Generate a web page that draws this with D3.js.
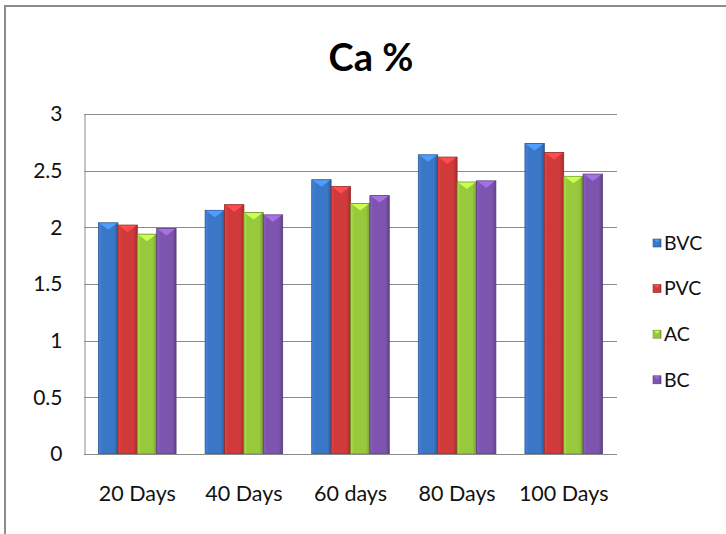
<!DOCTYPE html>
<html>
<head>
<meta charset="utf-8">
<script src="https://cdn.jsdelivr.net/npm/d3@7"></script>
<style>
  body { margin: 0; background: #fff; }
  text { font-family: Lato, "Open Sans", sans-serif; }
</style>
</head>
<body>
<svg id="chart" width="726" height="534"></svg>
<script>
// chart values
var categories = ["20 Days", "40 Days", "60 days", "80 Days", "100 Days"];
var seriesNames = ["BVC", "PVC", "AC", "BC"];
var BVC = [2.04, 2.15, 2.42, 2.64, 2.74];
var PVC = [2.02, 2.20, 2.36, 2.62, 2.66];
var AC  = [1.94, 2.13, 2.21, 2.40, 2.45];
var BC  = [1.99, 2.11, 2.28, 2.41, 2.47];
var yTicks = [0, 0.5, 1, 1.5, 2, 2.5, 3];
var colors = ["#3a77c6", "#d03a3a", "#98c83c", "#7d55ae"];

var values = [BVC, PVC, AC, BC];

var svg = d3.select("#chart");

// outer frame (runs off right and bottom edge like the original)
svg.append("rect")
    .attr("x", 5).attr("y", 6)
    .attr("width", 740).attr("height", 560)
    .attr("fill", "none")
    .attr("stroke", "#8c8c8c")
    .attr("stroke-width", 2);

var plot = {left: 84, right: 617, top: 114, bottom: 454};

var x0 = d3.scaleBand()
    .domain(categories)
    .range([plot.left, plot.right])
    .paddingInner(1.5 / 5.5)
    .paddingOuter(0.75 / 5.5);

var x1 = d3.scaleBand()
    .domain(seriesNames)
    .range([0, x0.bandwidth()]);

var y = d3.scaleLinear()
    .domain([0, 3])
    .range([plot.bottom, plot.top]);

// gradients for the bevelled bars
var defs = svg.append("defs");
seriesNames.forEach(function (name, i) {
    var c = d3.color(colors[i]);
    var g = defs.append("linearGradient")
        .attr("id", "grad" + i)
        .attr("x1", "0%").attr("x2", "100%")
        .attr("y1", "0%").attr("y2", "0%");
    g.append("stop").attr("offset", "0%").attr("stop-color", c.brighter(0.35));
    g.append("stop").attr("offset", "18%").attr("stop-color", c);
    g.append("stop").attr("offset", "80%").attr("stop-color", c);
    g.append("stop").attr("offset", "100%").attr("stop-color", c.darker(0.7));
});

// gridlines
svg.append("g")
    .selectAll("line")
    .data(yTicks.filter(function (d) { return d > 0; }))
    .enter()
    .append("line")
    .attr("x1", plot.left).attr("x2", plot.right)
    .attr("y1", function (d) { return Math.round(y(d)) + 0.5; })
    .attr("y2", function (d) { return Math.round(y(d)) + 0.5; })
    .attr("stroke", "#8a8a8a")
    .attr("stroke-width", 1);

// y axis
var yAxis = svg.append("g")
    .attr("transform", "translate(" + (plot.left + 0.5) + ",0)")
    .call(d3.axisLeft(y).tickValues(yTicks).tickSize(0).tickPadding(22)
        .tickFormat(function (d) { return String(d); }));
yAxis.select(".domain").attr("stroke", "#8a8a8a");
yAxis.selectAll("text")
    .attr("font-size", 21)
    .attr("fill", "#111")
    .attr("font-family", "Lato, sans-serif");

// bars
var groups = svg.append("g")
    .selectAll("g")
    .data(categories)
    .enter()
    .append("g")
    .attr("transform", function (d) { return "translate(" + x0(d) + ",0)"; });

groups.each(function (cat, ci) {
    var g = d3.select(this);
    seriesNames.forEach(function (name, si) {
        var v = values[si][ci];
        var bx = x1(name);
        var bw = x1.bandwidth();
        var by = y(v);
        var c = d3.color(colors[si]);
        g.append("rect")
            .attr("x", bx).attr("y", by)
            .attr("width", bw).attr("height", y(0) - by)
            .attr("fill", "url(#grad" + si + ")")
            .attr("stroke", c.darker(1))
            .attr("stroke-width", 0.8);
        // top bevel highlight
        g.append("polygon")
            .attr("points", [[bx + 1, by + 0.5], [bx + bw - 1, by + 0.5], [bx + bw / 2, by + 7]].join(" "))
            .attr("fill", c.brighter(0.8));
    });
});

// x axis
var xAxis = svg.append("g")
    .attr("transform", "translate(0," + (plot.bottom + 0.5) + ")")
    .call(d3.axisBottom(x0).tickSize(0).tickPadding(31).tickSizeOuter(0));
xAxis.select(".domain")
    .attr("stroke", "#8a8a8a")
    .attr("d", "M" + plot.left + ",0H" + plot.right);
xAxis.selectAll("text")
    .attr("font-size", 21.5)
    .attr("fill", "#111")
    .attr("font-family", "Lato, sans-serif");

// title
svg.append("text")
    .attr("x", 371).attr("y", 71)
    .attr("text-anchor", "middle")
    .attr("font-size", 38)
    .attr("font-weight", "bold")
    .attr("fill", "#000")
    .text("Ca %");

// legend
var legend = svg.append("g")
    .selectAll("g")
    .data(seriesNames)
    .enter()
    .append("g")
    .attr("transform", function (d, i) { return "translate(653," + (243 + i * 45.6) + ")"; });

legend.append("rect")
    .attr("x", 0).attr("y", -4)
    .attr("width", 8).attr("height", 8)
    .attr("fill", function (d, i) { return "url(#grad" + i + ")"; })
    .attr("stroke", function (d, i) { return d3.color(colors[i]).darker(1); })
    .attr("stroke-width", 0.6);
legend.append("polygon")
    .attr("points", "1,-3.5 7,-3.5 4,-0.5")
    .attr("fill", function (d, i) { return d3.color(colors[i]).brighter(0.7); });

legend.append("text")
    .attr("x", 11).attr("y", 0)
    .attr("dy", "0.35em")
    .attr("font-size", 19.5)
    .attr("fill", "#111")
    .text(function (d) { return d; });
</script>
</body>
</html>
